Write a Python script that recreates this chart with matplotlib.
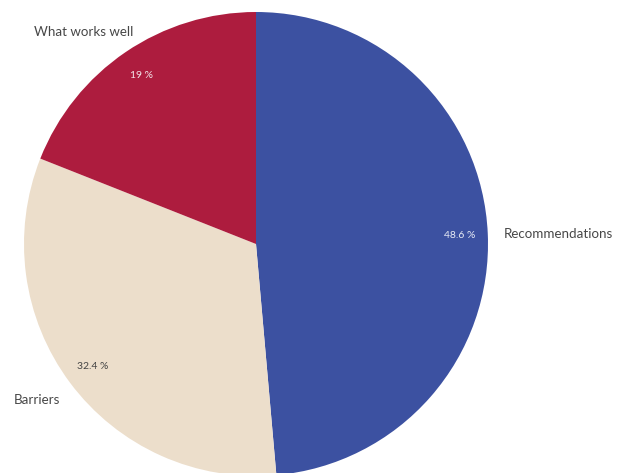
import numpy as np
import matplotlib
matplotlib.use("Agg")
import matplotlib.pyplot as plt

plt.rcParams["font.family"] = ["Lato", "DejaVu Sans"]

categories = ["Recommendations", "Barriers", "What works well"]
shares = [48.6, 32.4, 19.0]
colors = ["#3c51a1", "#ecdecb", "#ad1c3e"]
pct_colors = ["#e8ecf6", "#444444", "#f3e6ea"]

W, H = 629, 473
fig = plt.figure(figsize=(W / 100, H / 100), dpi=100)
# pie centred at (256, 244) px with radius ~232 px; bottom runs just past the edge
cx, cy, r = 256, 244, 232
ax = fig.add_axes([(cx - r) / W, (H - cy - r) / H, 2 * r / W, 2 * r / H])

wedges, _ = ax.pie(shares, colors=colors, startangle=90, counterclock=False,
                   radius=1, wedgeprops=dict(linewidth=0))
ax.set_xlim(-1, 1)
ax.set_ylim(-1, 1)
ax.set_aspect("equal")
ax.axis("off")

for w, v, c in zip(wedges, shares, pct_colors):
    mid = np.deg2rad((w.theta1 + w.theta2) / 2)
    ax.text(0.88 * np.cos(mid), 0.88 * np.sin(mid), f"{v:g} %",
            ha="center", va="center", fontsize=7.5, color=c)

# category labels sit outside the rim, nudged to stay on the canvas
label_pos = {
    "Recommendations": (504, 234, "left"),
    "Barriers": (60, 400, "right"),
    "What works well": (133, 32, "right"),
}
for name in categories:
    x, y, ha = label_pos[name]
    fig.text(x / W, 1 - y / H, name, ha=ha, va="center", fontsize=9.6, color="#474747")

fig.savefig("out.png", dpi=100)
